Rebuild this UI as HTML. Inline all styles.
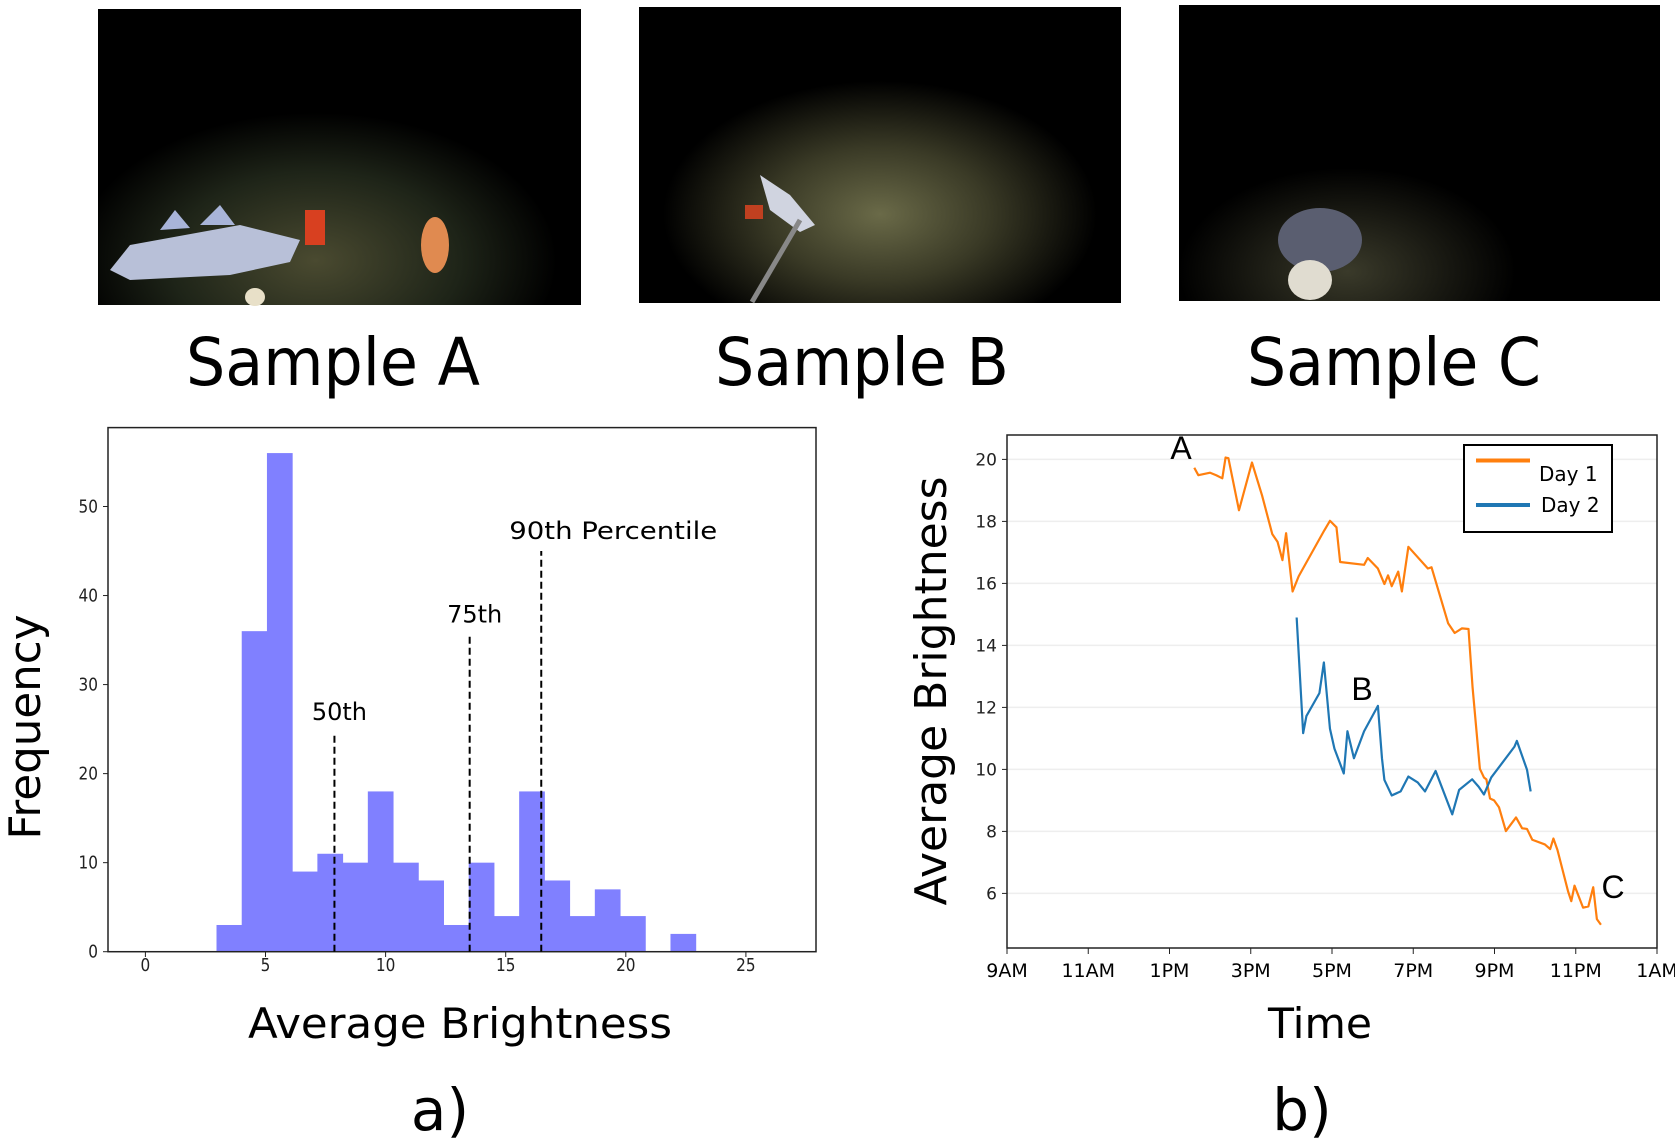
<!DOCTYPE html>
<html><head><meta charset="utf-8"><style>
body{margin:0;background:#fff;}
svg{display:block;font-family:"DejaVu Sans","Liberation Sans",sans-serif;}
</style></head><body>
<svg id="fig" width="1675" height="1147" viewBox="0 0 1675 1147" xmlns="http://www.w3.org/2000/svg">
<defs>
<radialGradient id="gA" cx="0.45" cy="0.85" r="0.5"><stop offset="0" stop-color="#4a4a30"/><stop offset="0.6" stop-color="#1e2418"/><stop offset="1" stop-color="#000"/></radialGradient>
<radialGradient id="gB" cx="0.5" cy="0.7" r="0.45"><stop offset="0" stop-color="#6a6a48"/><stop offset="0.5" stop-color="#3a3a26"/><stop offset="1" stop-color="#000"/></radialGradient>
<radialGradient id="gC" cx="0.35" cy="0.9" r="0.35"><stop offset="0" stop-color="#3a3a2a"/><stop offset="1" stop-color="#000"/></radialGradient>
</defs>
<g>
<rect x="98" y="9" width="483" height="296" fill="#000"/>
<rect x="98" y="9" width="483" height="296" fill="url(#gA)"/>
<path d="M110 270 L130 245 L240 225 L300 240 L290 262 L230 275 L130 280Z" fill="#b8c0d8"/>
<path d="M160 230 L175 210 L190 228Z M200 225 L220 205 L235 225Z" fill="#a8b4d8"/>
<rect x="305" y="210" width="20" height="35" fill="#d84020"/>
<ellipse cx="435" cy="245" rx="14" ry="28" fill="#e08a50"/>
<ellipse cx="255" cy="297" rx="10" ry="9" fill="#e8e0c8"/>
</g>
<g>
<rect x="639" y="7" width="482" height="296" fill="#000"/>
<rect x="639" y="7" width="482" height="296" fill="url(#gB)"/>
<path d="M760 175 L790 195 L815 225 L800 232 L770 210Z" fill="#d0d4e0"/>
<line x1="800" y1="220" x2="752" y2="302" stroke="#888" stroke-width="5"/>
<rect x="745" y="205" width="18" height="14" fill="#c04020"/>
</g>
<g>
<rect x="1179" y="5" width="481" height="296" fill="#000"/>
<rect x="1179" y="5" width="481" height="296" fill="url(#gC)"/>
<ellipse cx="1320" cy="240" rx="42" ry="32" fill="#5a5e70"/>
<ellipse cx="1310" cy="280" rx="22" ry="20" fill="#e0dcd0"/>
</g>
<text x="333" y="385" font-size="66" text-anchor="middle" textLength="294" lengthAdjust="spacingAndGlyphs">Sample A</text>
<text x="862" y="385" font-size="66" text-anchor="middle" textLength="294" lengthAdjust="spacingAndGlyphs">Sample B</text>
<text x="1394" y="385" font-size="66" text-anchor="middle" textLength="294" lengthAdjust="spacingAndGlyphs">Sample C</text>
<g id="hist"></g>
<g id="line"></g>
<text x="460" y="1038" font-size="42" text-anchor="middle" textLength="424" lengthAdjust="spacingAndGlyphs">Average Brightness</text>
<text transform="translate(40,727) rotate(-90)" font-size="44" text-anchor="middle" textLength="225" lengthAdjust="spacingAndGlyphs">Frequency</text>
<text x="1320" y="1038" font-size="42" text-anchor="middle" textLength="104" lengthAdjust="spacingAndGlyphs">Time</text>
<text transform="translate(946,691) rotate(-90)" font-size="44" text-anchor="middle" textLength="429" lengthAdjust="spacingAndGlyphs">Average Brightness</text>
<text x="440" y="1130" font-size="58" text-anchor="middle">a)</text>
<text x="1302" y="1130" font-size="58" text-anchor="middle">b)</text>
</svg>
<script>
const binStart = 2.96;
const binWidth = 1.05;
const binCounts = [3,36,56,9,11,10,18,10,8,3,10,4,18,8,4,7,4,0,2];
const histXTicks = [0,5,10,15,20,25];
const histYTicks = [0,10,20,30,40,50];
const pctValues = [7.87,13.5,16.48];
const pctTops = [24.7,35.6,45];
const pctLabels = ["50th","75th","90th Percentile"];

const day1Hours = [13.61,13.71,14.00,14.15,14.30,14.38,14.45,14.71,15.03,15.28,15.53,15.66,15.78,15.87,16.03,16.18,16.81,16.95,17.11,17.20,17.79,17.88,18.13,18.29,18.38,18.47,18.63,18.72,18.88,19.36,19.45,19.86,20.02,20.20,20.36,20.46,20.64,20.74,20.80,20.89,20.99,21.11,21.28,21.53,21.68,21.80,21.93,22.24,22.37,22.45,22.55,22.81,22.89,22.97,23.18,23.31,23.43,23.52,23.62];
const day1Values = [19.73,19.49,19.57,19.49,19.39,20.06,20.04,18.36,19.90,18.83,17.59,17.34,16.75,17.62,15.74,16.23,17.71,18.02,17.81,16.69,16.60,16.82,16.48,15.98,16.26,15.91,16.38,15.74,17.18,16.48,16.52,14.71,14.40,14.55,14.53,12.65,10.02,9.74,9.68,9.06,9.00,8.78,8.01,8.45,8.10,8.08,7.73,7.58,7.43,7.77,7.40,6.07,5.75,6.25,5.54,5.58,6.20,5.17,4.99];
const day2Hours = [16.13,16.29,16.37,16.69,16.80,16.95,17.06,17.29,17.38,17.54,17.79,18.13,18.23,18.29,18.47,18.69,18.88,19.11,19.29,19.55,19.96,20.13,20.45,20.61,20.74,20.92,21.49,21.55,21.80,21.89];
const day2Values = [14.90,11.17,11.72,12.46,13.45,11.31,10.67,9.87,11.23,10.36,11.23,12.05,10.36,9.66,9.16,9.29,9.77,9.58,9.29,9.95,8.55,9.34,9.68,9.44,9.19,9.74,10.73,10.92,9.99,9.29];
const timeTickHours = [9,11,13,15,17,19,21,23,25];
const timeTickLabels = ["9AM","11AM","1PM","3PM","5PM","7PM","9PM","11PM","1AM"];
const lineYTicks = [6,8,10,12,14,16,18,20];

const NS="http://www.w3.org/2000/svg";
function mk(parent,tag,attrs,text){const e=document.createElementNS(NS,tag);for(const k in attrs)e.setAttribute(k,attrs[k]);if(text!==undefined)e.textContent=text;parent.appendChild(e);return e;}

// Histogram
const H=document.getElementById('hist');
const hx=v=>145.4+v*24.02;
const hy=v=>951.7-v*8.904;
for(let i=0;i<binCounts.length;i++){
  if(binCounts[i]<=0)continue;
  const x0=hx(binStart+i*binWidth),x1=hx(binStart+(i+1)*binWidth);
  const r=mk(H,'rect',{x:x0,y:hy(binCounts[i]),width:x1-x0+0.5,height:hy(0)-hy(binCounts[i]),fill:'#8080ff'});
  
  
}
mk(H,'rect',{x:108,y:427.6,width:708,height:524.1,fill:'none',stroke:'#222','stroke-width':1.5});
histXTicks.forEach(t=>{
  mk(H,'line',{x1:hx(t),x2:hx(t),y1:951.7,y2:957,stroke:'#222'});
  const l=mk(H,'text',{x:hx(t),y:971,'font-size':18,'text-anchor':'middle',fill:'#222',transform:'translate('+hx(t)+',0) scale(0.85,1) translate('+(-hx(t))+',0)'},String(t));
  
  
});
histYTicks.forEach(t=>{
  mk(H,'line',{x1:103,x2:108,y1:hy(t),y2:hy(t),stroke:'#222'});
  const l=mk(H,'text',{x:98,y:hy(t)+6,'font-size':18,'text-anchor':'end',fill:'#222',transform:'translate(98,0) scale(0.85,1) translate(-98,0)'},String(t));
  
  
});
pctValues.forEach((p,i)=>{
  const ln=mk(H,'line',{x1:hx(p),x2:hx(p),y1:hy(0),y2:hy(pctTops[i]),stroke:'#000','stroke-width':2,'stroke-dasharray':'7,4'});
  
  
  const anchorX = i===2 ? hx(p)-32 : hx(p)+5;
  const t=mk(H,'text',{x:anchorX,y:hy(pctTops[i])-12,'font-size':24,'text-anchor':i===2?'start':'middle',fill:'#000'},pctLabels[i]);
  if(i===2){t.setAttribute('textLength','208');t.setAttribute('lengthAdjust','spacingAndGlyphs');}
  
  
});

// Line chart
const L=document.getElementById('line');
const lx=h=>1007+(h-9)*40.625;
const ly=v=>459.4+(20-v)*31.0;
lineYTicks.forEach(t=>{
  const g=mk(L,'line',{x1:1007,x2:1657,y1:ly(t),y2:ly(t),stroke:'#eee','stroke-width':1.5});
  
  
  mk(L,'line',{x1:1002,x2:1007,y1:ly(t),y2:ly(t),stroke:'#222'});
  const l=mk(L,'text',{x:997,y:ly(t)+6,'font-size':17,'text-anchor':'end',fill:'#222'},String(t));
  
  
});
mk(L,'rect',{x:1007,y:435,width:650,height:513,fill:'none',stroke:'#222','stroke-width':1.5});
timeTickHours.forEach((h,i)=>{
  mk(L,'line',{x1:lx(h),x2:lx(h),y1:948,y2:954,stroke:'#222'});
  const l=mk(L,'text',{x:lx(h),y:977,'font-size':19,'text-anchor':'middle',fill:'#000'},timeTickLabels[i]);
  
  
});
function series(hs,vs,color,name){
  const p=mk(L,'polyline',{points:hs.map((h,i)=>lx(h)+','+ly(vs[i])).join(' '),fill:'none',stroke:color,'stroke-width':2.2,'stroke-linejoin':'round'});
  
  
}
series(day1Hours,day1Values,'#ff7f0e','day-1-line');
series(day2Hours,day2Values,'#1f77b4','day-2-line');
[['A',1181,459],['B',1362,700],['C',1613,898]].forEach(a=>{
  const t=mk(L,'text',{x:a[1],y:a[2],'font-size':32,'text-anchor':'middle',fill:'#000','font-family':'Liberation Sans, sans-serif'},a[0]);
  
  
});
const lg=mk(L,'g',{});


mk(lg,'rect',{x:1464,y:445,width:148,height:87,fill:'#fff',stroke:'#000','stroke-width':2});
mk(lg,'line',{x1:1476,x2:1530,y1:460.5,y2:460.5,stroke:'#ff7f0e','stroke-width':4});
const t1=mk(lg,'text',{x:1539,y:481,'font-size':20,fill:'#000'},'Day 1');


mk(lg,'line',{x1:1476,x2:1530,y1:505,y2:505,stroke:'#1f77b4','stroke-width':4});
const t2=mk(lg,'text',{x:1541,y:512,'font-size':20,fill:'#000'},'Day 2');


</script>
</body></html>
